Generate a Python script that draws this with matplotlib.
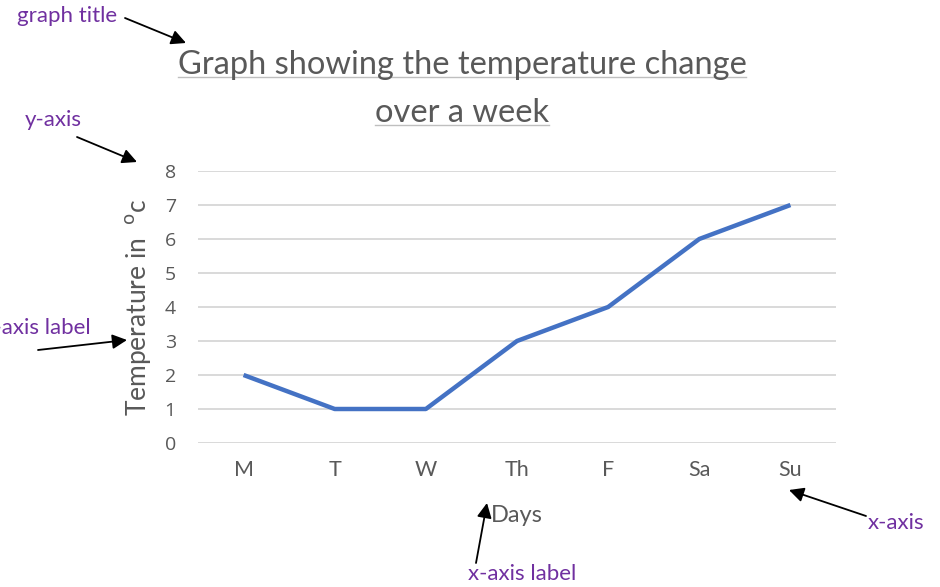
import matplotlib
matplotlib.use("Agg")
import matplotlib.pyplot as plt
from matplotlib.lines import Line2D
from matplotlib.patches import FancyArrowPatch

days = ["M", "T", "W", "Th", "F", "Sa", "Su"]
temps = [2, 1, 1, 3, 4, 6, 7]
y_ticks = [0, 1, 2, 3, 4, 5, 6, 7, 8]

title_lines = ["Graph showing the temperature change", "over a week"]
x_label = "Days"
y_label = r"Temperature in  $^{\mathrm{o}}$c"

# (text, text left/centre-y, arrow tail, arrow head) in pixels from top-left
notes = [
    ("graph title", (17, 16), (125, 18), (186, 43)),
    ("y-axis", (25, 120), (77, 137), (137, 162)),
    ("y-axis label", (-18, 328), (38, 350), (127, 340)),
    ("x-axis label", (468, 574), (476, 563), (487, 503)),
    ("x-axis", (868, 523), (866, 516), (789, 490)),
]

W, H = 940, 587
GREY = "#595959"
PURPLE = "#7030A0"
FONT = ["Lato", "DejaVu Sans"]

fig = plt.figure(figsize=(W / 100, H / 100), dpi=100)
fig.patch.set_facecolor("white")
ax = fig.add_axes([198 / W, (H - 443) / H, (836 - 198) / W, (443 - 171) / H])

x = range(len(days))
ax.plot(x, temps, color="#4472C4", lw=3.2, solid_capstyle="butt", zorder=3)
ax.set_xlim(-0.5, len(days) - 0.5)
ax.set_ylim(0, 8)
ax.set_yticks(y_ticks)
ax.set_xticks(list(x))
ax.set_xticklabels(days, fontsize=15.5, color=GREY, family=FONT)
ax.set_yticklabels([str(v) for v in y_ticks], fontsize=14, color=GREY, family=["Open Sans", "DejaVu Sans"])
ax.grid(axis="y", color="#D9D9D9", lw=1.4)
ax.set_axisbelow(True)
for s in ax.spines.values():
    s.set_visible(False)
ax.tick_params(length=0)
ax.tick_params(axis="x", pad=12)
ax.tick_params(axis="y", pad=16)

ax.set_xlabel(x_label, fontsize=17, color=GREY, family=FONT, labelpad=18)
ax.set_ylabel(y_label, fontsize=19, color=GREY, family=FONT, labelpad=8)

# title with underlines
title_texts = []
for txt, ty in zip(title_lines, [65, 113]):
    t = fig.text(462 / W, 1 - ty / H, txt, ha="center", va="center", fontsize=23.5,
                 color=GREY, family=FONT)
    title_texts.append(t)

fig.canvas.draw()
r = fig.canvas.get_renderer()
for t in title_texts:
    bb = t.get_window_extent(r)
    y0 = bb.y0 + 3
    fig.add_artist(Line2D([bb.x0 / W, bb.x1 / W], [y0 / H, y0 / H],
                          color="#BFBFBF", lw=1.0, transform=fig.transFigure))

for txt, (tx, ty), tail, head in notes:
    fig.text(tx / W, 1 - ty / H, txt, ha="left", va="center", fontsize=16,
             color=PURPLE, family=FONT)
    fig.add_artist(FancyArrowPatch(
        (tail[0] / W, 1 - tail[1] / H), (head[0] / W, 1 - head[1] / H),
        transform=fig.transFigure, arrowstyle="-|>", mutation_scale=22,
        color="black", lw=1.3, shrinkA=0, shrinkB=0))

fig.savefig("out.png", dpi=100)
